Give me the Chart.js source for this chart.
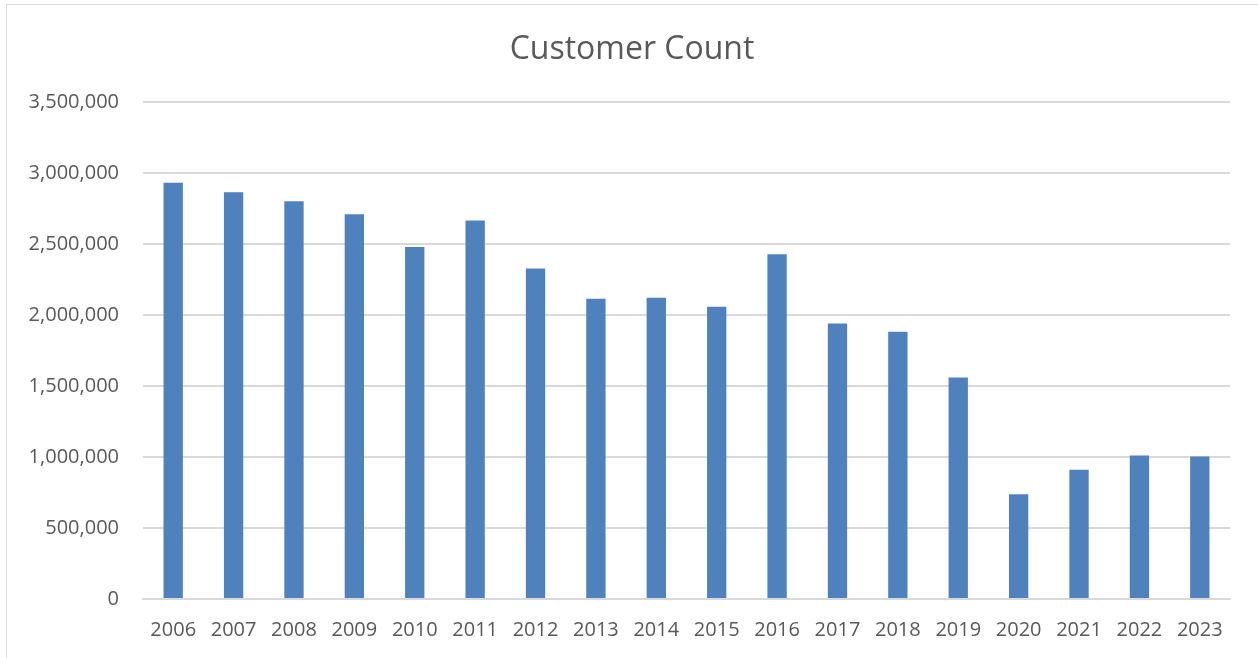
<!DOCTYPE html>
<html>
<head>
<meta charset="utf-8">
<script src="https://cdn.jsdelivr.net/npm/chart.js@4/dist/chart.umd.min.js"></script>
<style>
  body { margin: 0; width: 1258px; height: 658px; overflow: hidden; background: #fff; position: relative; }
  #frame { position: absolute; left: 6px; top: 4px; width: 1300px; height: 700px; border: 1px solid #d9d9d9; }
  #customers { position: absolute; left: 0; top: 0; }
</style>
</head>
<body>
<div id="frame"></div>
<canvas id="customers" width="1258" height="658"></canvas>
<script>
// years and customer counts
var years = ['2006','2007','2008','2009','2010','2011','2012','2013','2014',
             '2015','2016','2017','2018','2019','2020','2021','2022','2023'];
var customers = [2933000, 2867000, 2804000, 2712000, 2481000, 2667000, 2329000, 2117000, 2124000,
                 2060000, 2429000, 1942000, 1883000, 1561000, 739000, 911000, 1012000, 1005000];
var yMax = 3500000;
var yStep = 500000;

var textColor = '#595959';
var gridColor = '#d9d9d9';
var fontFamily = "'Open Sans', 'Liberation Sans', sans-serif";

// title sits centred on the whole frame, not on the padded box
var titleShift = {
  id: 'titleShift',
  afterLayout: function(chart) {
    var t = chart.titleBlock;
    if (t) { t.left += 17; t.right += 17; }
  }
};

var ctx = document.getElementById('customers');
var chart = new Chart(ctx, {
  type: 'bar',
  data: {
    labels: years,
    datasets: [{
      label: 'Customer Count',
      data: customers,
      backgroundColor: '#4f81bd',
      barPercentage: 0.32,
      categoryPercentage: 1.0
    }]
  },
  plugins: [titleShift],
  options: {
    responsive: false,
    animation: false,
    devicePixelRatio: 1,
    layout: { padding: { left: 0, right: 28, top: 0, bottom: 0 } },
    plugins: {
      legend: { display: false },
      tooltip: { enabled: false },
      title: {
        display: true,
        text: 'Customer Count',
        color: textColor,
        font: { family: fontFamily, size: 32, weight: 'normal' },
        padding: { top: 31, bottom: 33 }
      }
    },
    scales: {
      x: {
        grid: { display: false, drawTicks: false },
        border: { display: true, color: gridColor, width: 2 },
        ticks: {
          color: textColor,
          font: { family: fontFamily, size: 20 },
          padding: 19,
          maxRotation: 0,
          autoSkip: false
        },
        afterFit: function(scale) { scale.height = 59; }
      },
      y: {
        min: 0,
        max: yMax,
        grid: { color: gridColor, lineWidth: 2, drawTicks: false },
        border: { display: false },
        ticks: {
          stepSize: yStep,
          color: textColor,
          font: { family: fontFamily, size: 20 },
          padding: 24,
          callback: function(v) { return Number(v).toLocaleString('en-US'); }
        },
        afterFit: function(scale) { scale.width = 143; }
      }
    }
  }
});
</script>
</body>
</html>
